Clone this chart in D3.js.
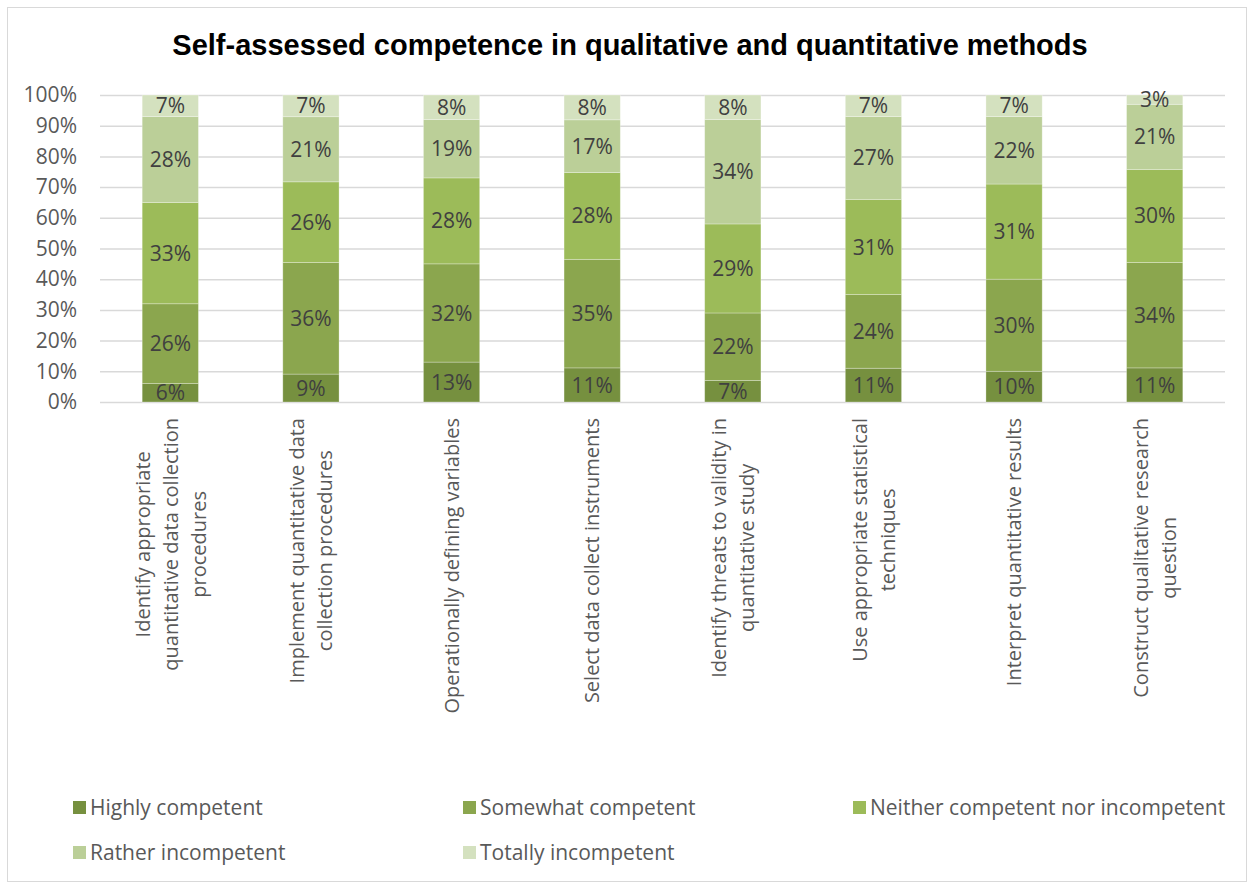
<!DOCTYPE html>
<html>
<head>
<meta charset="utf-8">
<script src="https://cdn.jsdelivr.net/npm/d3@7"></script>
<style>
  body { margin: 0; background: #fff; }
  svg text { font-family: "Open Sans", sans-serif; }
</style>
</head>
<body>
<div class="chart"></div>
<script>
/*DATA*/
var categories = [
  "Identify appropriate\nquantitative data collection\nprocedures",
  "Implement quantitative data\ncollection procedures",
  "Operationally defining variables",
  "Select data collect instruments",
  "Identify threats to validity in\nquantitative study",
  "Use appropriate statistical\ntechniques",
  "Interpret quantitative results",
  "Construct qualitative research\nquestion"
];
var series = ["Highly competent", "Somewhat competent", "Neither competent nor incompetent",
              "Rather incompetent", "Totally incompetent"];
var highly   = [6, 9, 13, 11, 7, 11, 10, 11];
var somewhat = [26, 36, 32, 35, 22, 24, 30, 34];
var neither  = [33, 26, 28, 28, 29, 31, 31, 30];
var rather   = [28, 21, 19, 17, 34, 27, 22, 21];
var totally  = [7, 7, 8, 8, 8, 7, 7, 3];
var yTicks = [0, 0.1, 0.2, 0.3, 0.4, 0.5, 0.6, 0.7, 0.8, 0.9, 1];
var colors = ["#76903f", "#8ba64e", "#9cbb59", "#bbcf98", "#d4e1bf"];

var rows = categories.map(function(c, i) {
  return {cat: c, "Highly competent": highly[i], "Somewhat competent": somewhat[i],
          "Neither competent nor incompetent": neither[i], "Rather incompetent": rather[i],
          "Totally incompetent": totally[i]};
});

var W = 1253, H = 888;
var plotL = 100, plotR = 1225, plotT = 95, plotB = 402;

var svg = d3.select(".chart").append("svg")
    .attr("width", W)
    .attr("height", H);

/*CHART BORDER*/
svg.append("rect")
    .attr("x", 7.5).attr("y", 7.5)
    .attr("width", W - 14).attr("height", H - 14)
    .attr("fill", "none")
    .attr("stroke", "#d9d9d9");

/*TITLE*/
svg.append("text")
    .attr("x", 630)
    .attr("y", 55)
    .attr("text-anchor", "middle")
    .style("font-family", "'Liberation Sans', Arial, sans-serif")
    .style("font-weight", "bold")
    .style("font-size", "29px")
    .attr("fill", "#000")
    .text("Self-assessed competence in qualitative and quantitative methods");

var x = d3.scaleBand()
    .domain(categories)
    .range([plotL, plotR])
    .paddingInner(0.6)
    .paddingOuter(0.3);

var y = d3.scaleLinear()
    .domain([0, 1])
    .range([plotB, plotT]);

/*GRIDLINES + Y AXIS*/
var yAxis = svg.append("g")
    .attr("transform", "translate(" + plotL + ",0)")
    .call(d3.axisLeft(y).tickValues(yTicks).tickFormat(d3.format(".0%"))
            .tickSize(-(plotR - plotL)).tickPadding(23));
yAxis.select(".domain").remove();
yAxis.selectAll(".tick line").attr("stroke", "#d9d9d9").attr("stroke-width", 1.5);
yAxis.selectAll(".tick text")
    .attr("fill", "#595959")
    .style("font-size", "21px")
    .style("font-family", "'Open Sans', sans-serif");

/*STACKED BARS*/
var stack = d3.stack().keys(series).offset(d3.stackOffsetExpand);
var layers = stack(rows);

var g = svg.append("g");
var layer = g.selectAll("g.layer")
    .data(layers)
    .enter().append("g")
    .attr("class", "layer")
    .attr("fill", function(d, i) { return colors[i]; });

layer.selectAll("rect")
    .data(function(d) { return d; })
    .enter().append("rect")
    .attr("x", function(d) { return x(d.data.cat); })
    .attr("width", x.bandwidth())
    .attr("y", function(d) { return y(d[1]); })
    .attr("height", function(d) { return y(d[0]) - y(d[1]); })
    .attr("stroke", "#fff")
    .attr("stroke-opacity", 0.35)
    .attr("stroke-width", 0.8);

/*DATA LABELS*/
layers.forEach(function(l) {
  g.selectAll(null)
    .data(l)
    .enter().append("text")
    .attr("x", function(d) { return x(d.data.cat) + x.bandwidth() / 2; })
    .attr("y", function(d) { return (y(d[0]) + y(d[1])) / 2; })
    .attr("dy", "0.36em")
    .attr("text-anchor", "middle")
    .attr("fill", "#404040")
    .style("font-size", "21px")
    .text(function(d) { return d.data[l.key] + "%"; });
});

/*X LABELS (ROTATED, WRAPPED)*/
var lineH = 28;
categories.forEach(function(c) {
  var lines = c.split("\n");
  var cx = x(c) + x.bandwidth() / 2;
  var lg = svg.append("g")
      .attr("transform", "translate(" + cx + ",418) rotate(-90)");
  var texts = lg.selectAll("text")
      .data(lines)
      .enter().append("text")
      .attr("y", function(d, i) { return (i - (lines.length - 1) / 2) * lineH; })
      .attr("dy", "0.36em")
      .attr("text-anchor", "middle")
      .attr("fill", "#595959")
      .style("font-size", "20px")
      .text(function(d) { return d; });
  var maxLen = d3.max(texts.nodes(), function(n) { return n.getComputedTextLength(); });
  texts.attr("x", -maxLen / 2);
});

/*LEGEND*/
var legX = [73, 463, 853], legY = [807, 852];
var legend = svg.append("g").selectAll("g")
    .data(series)
    .enter().append("g")
    .attr("transform", function(d, i) {
      return "translate(" + legX[i % 3] + "," + legY[Math.floor(i / 3)] + ")";
    });
legend.append("rect")
    .attr("x", 0).attr("y", -6)
    .attr("width", 13).attr("height", 13)
    .attr("fill", function(d, i) { return colors[i]; });
legend.append("text")
    .attr("x", 17)
    .attr("dy", "0.36em")
    .attr("fill", "#595959")
    .style("font-size", "21px")
    .text(function(d) { return d; });
</script>
</body>
</html>
